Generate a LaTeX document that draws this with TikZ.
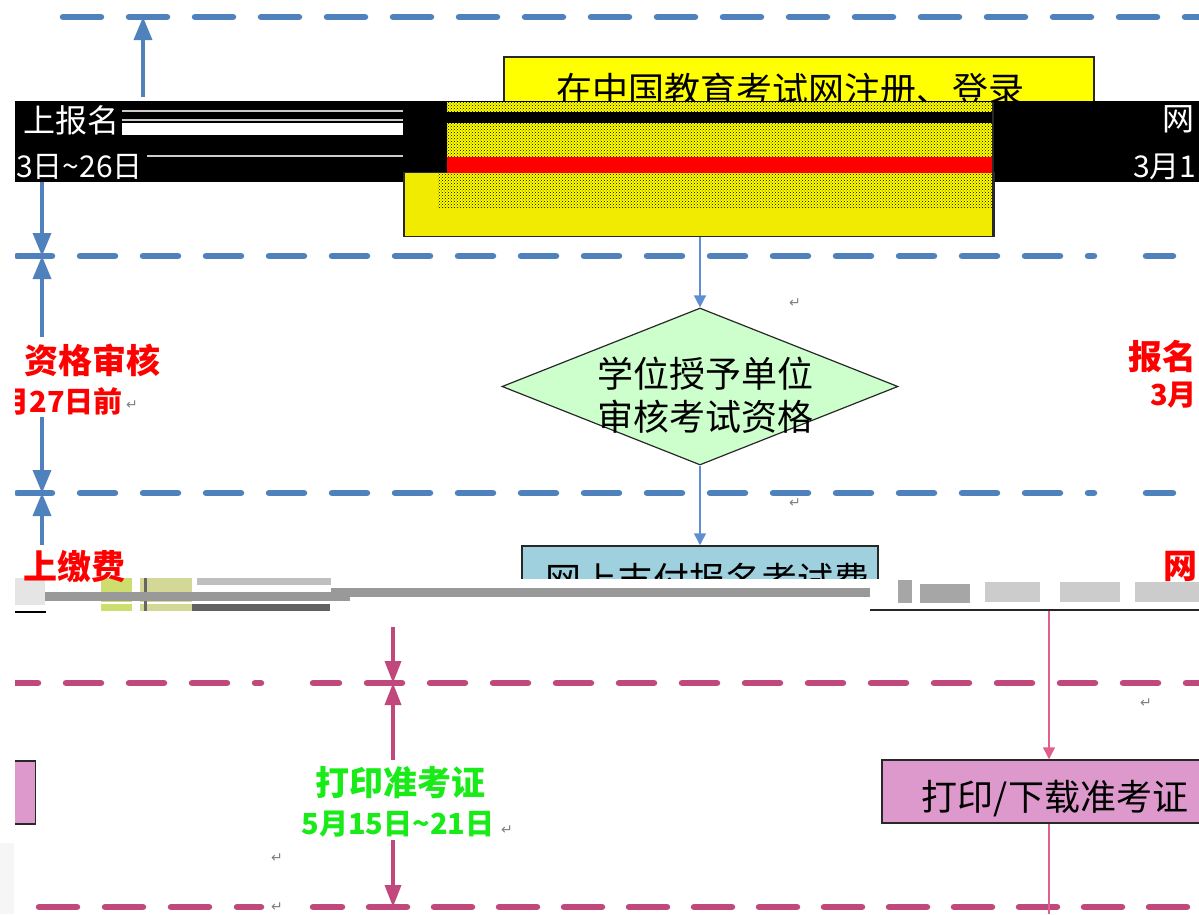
\documentclass[tikz,border=0pt]{standalone}
\usepackage{fontspec}
\newfontfamily\cjk{Noto Sans CJK SC}
\newfontfamily\symf{DejaVu Sans}
\usetikzlibrary{arrows.meta,shapes.geometric,patterns}
\definecolor{bl}{RGB}{79,129,189}
\definecolor{blc}{RGB}{95,143,210}
\definecolor{pk}{RGB}{192,72,122}
\definecolor{pkc}{RGB}{225,95,140}
\definecolor{yl}{RGB}{255,255,0}
\definecolor{ylb}{RGB}{240,235,0}
\definecolor{lgreen}{RGB}{204,255,204}
\definecolor{lblue}{RGB}{158,208,222}
\definecolor{orch}{RGB}{221,152,204}
\definecolor{grn}{RGB}{25,235,25}
\definecolor{rd}{RGB}{255,0,0}
\definecolor{dk}{RGB}{40,40,40}
\definecolor{mk}{RGB}{128,128,128}
\definecolor{gy1}{RGB}{205,222,110}
\definecolor{gy2}{RGB}{212,216,150}
\newcommand{\tld}{\char"007E\relax}
\begin{document}
\begin{tikzpicture}[x=1pt,y=-1pt,
  bdash/.style={draw=bl,line width=6.5pt,line cap=round,dash pattern=on 35pt off 28pt},
  pdash/.style={draw=pk,line width=6.5pt,line cap=round,dash pattern=on 35pt off 28pt},
  pdashb/.style={draw=pk,line width=6.5pt,line cap=round,dash pattern=on 38pt off 27pt},
  barrow/.style={draw=bl,line width=3.5pt,-{Triangle[length=23pt,width=18pt]}},
  parrow/.style={draw=pk,line width=3.5pt,-{Triangle[length=22pt,width=16pt]}},
  bconn/.style={draw=blc,line width=1.5pt,-{Triangle[length=12pt,width=12pt]}},
  pconn/.style={draw=pkc,line width=1.5pt,-{Triangle[length=12pt,width=12pt]}},
  boxline/.style={draw=dk,line width=1.5pt,inner sep=0pt},
  txt/.style={inner sep=0pt,font=\cjk\fontsize{36}{42}\selectfont},
  rtxt/.style={inner sep=0pt,text=rd,font=\cjk\bfseries\fontsize{34}{40}\selectfont},
  rsub/.style={inner sep=0pt,text=rd,font=\cjk\bfseries\fontsize{29}{34}\selectfont},
  gtxt/.style={inner sep=0pt,text=grn,font=\cjk\bfseries\fontsize{34}{40}\selectfont},
  gsub/.style={inner sep=0pt,text=grn,font=\cjk\bfseries\fontsize{29}{34}\selectfont},
  wtxt/.style={inner sep=0pt,text=white,font=\cjk\fontsize{32}{36}\selectfont},
  wsub/.style={inner sep=0pt,text=white,font=\cjk\fontsize{30}{34}\selectfont},
  retmark/.style={inner sep=0pt,text=mk,font=\symf\fontsize{14}{14}\selectfont},
  glitch/.style={pattern=crosshatch dots,pattern color=black}
]
\useasboundingbox (0,0) rectangle (1199,914);
\fill[gray!7] (0,843) rectangle (14,914);
\begin{scope}
\clip (15,0) rectangle (1199,914);

% dashed separators
\draw[bdash,dash pattern=on 38pt off 28pt] (63,17) -- (1199,17);
\draw[bdash] (17,256) -- (1094,256);
\draw[bdash,dash phase=8pt] (1146,256) -- (1199,256);
\draw[bdash] (17,493) -- (1094,493);
\draw[bdash,dash phase=8pt] (1146,493) -- (1199,493);
\draw[pdash] (3,683) -- (261,683);
\draw[pdash,dash phase=9pt] (313,683) -- (1199,683);
\draw[pdashb,dash pattern=on 38pt off 28pt,dash phase=-39pt] (0,907) -- (261,907);
\draw[pdashb,dash phase=9pt] (313,907) -- (1199,907);

% yellow registration box (top part)
\begin{scope}
\clip (0,0) rectangle (1199,101);
\node[boxline,fill=yl,minimum width=590pt,minimum height=181pt,anchor=north west] (reg) at (503,56) {};
\node[txt] (regt) at (790,90) {在中国教育考试网注册、登录};
\end{scope}

% black band
\fill[black] (15,101) rectangle (1199,182);
\fill[white!80!black] (122,110) rectangle (403,111.5);
\fill[white!80!black] (122,119) rectangle (403,120.5);
\fill[white] (122,123) rectangle (403,135);
\fill[white!80!black] (147,155) rectangle (403,156.5);
\node[wtxt,anchor=east] (w1) at (120,120) {上报名};
\node[wsub,anchor=west] (w2) at (16,167) {3日\tld 26日};
\node[wtxt] (w3) at (1178,119) {网};
\node[wsub,anchor=west] (w4) at (1133,167) {3月1};

% yellow box lower part
\node[boxline,fill=ylb,minimum width=590pt,minimum height=64pt,anchor=south west] (reglow) at (403,237) {};
\fill[yl] (447,102) rectangle (993,112);
\fill[glitch] (447,102) rectangle (993,112);
\fill[yl] (447,123) rectangle (993,157);
\fill[glitch] (447,123) rectangle (993,157);
\fill[rd] (447,157) rectangle (993,173);
\fill[yl] (437,173) rectangle (993,207);
\fill[glitch] (437,173) rectangle (993,207);
\draw[dk,line width=1.5pt] (993,102) -- (993,237);

% diamond
\node[diamond,draw=dk,line width=1.2pt,fill=lgreen,minimum width=396pt,minimum height=157pt,inner sep=0pt] (dia) at (700,386.5) {};
\node[txt] (dia1) at (705,374) {学位授予单位};
\node[txt] (dia2) at (705,417) {审核考试资格};

% payment box (top part)
\begin{scope}
\clip (0,0) rectangle (1199,578);
\node[boxline,fill=lblue,minimum width=356pt,minimum height=70pt] (pay) at (700,581) {};
\node[txt] (payt) at (707,580) {网上支付报名考试费};
\end{scope}

% glitch band
\fill[black!10] (15,578) rectangle (45,605);
\fill[gy1] (101,578) rectangle (132,602);
\fill[gy1] (101,604) rectangle (132,611);
\fill[gy2] (140,578) rectangle (192,602);
\fill[gy2] (140,604) rectangle (192,611);
\fill[black!60] (144,578) rectangle (147,611);
\fill[black!25] (197,578) rectangle (331,585);
\fill[black!40] (45,592) rectangle (350,601);
\fill[black!40] (331,588) rectangle (870,597);
\fill[black!62] (192,604) rectangle (330,611);
\fill[black] (15,611) rectangle (46,613);
\fill[black!85] (870,609) rectangle (1199,611);
\fill[black!35] (898,580) rectangle (912,603);
\fill[black!35] (920,584) rectangle (970,603);
\fill[black!20] (985,582) rectangle (1040,602);
\fill[black!20] (1060,582) rectangle (1120,602);
\fill[black!20] (1135,582) rectangle (1199,602);

% print boxes
\node[boxline,fill=orch,minimum width=334pt,minimum height=63pt] (print) at (1049,791.5) {};
\node[txt] (printt) at (1055,799) {打印/下载准考证};
\node[boxline,fill=orch,minimum width=140pt,minimum height=63pt,anchor=east] (lbox) at (36,792.5) {};

% side labels
\node[rtxt] (r1) at (92,360) {资格审核};
\node[rsub,anchor=east] (r2) at (123,401) {月27日前};
\node[rtxt,anchor=east] (r3) at (126,567) {上缴费};
\node[rtxt,anchor=east] (r4) at (1197,357) {报名};
\node[rsub,anchor=east] (r5) at (1197,395) {3月};
\node[rtxt,anchor=west] (r6) at (1163,566) {网};
\node[gtxt] (g1) at (400,783) {打印准考证};
\node[gsub] (g2) at (398,824) {5月15日\tld 21日};

% paragraph marks
\node[retmark] (m1) at (795,303) {↵};
\node[retmark] (m2) at (795,503) {↵};
\node[retmark] (m3) at (1146,703) {↵};
\node[retmark] (m4) at (277,858) {↵};
\node[retmark] (m5) at (277,907) {↵};
\node[retmark] (m6) at (132,405) {↵};
\node[retmark] (m7) at (507,830) {↵};

% blue timeline arrows
\coordinate (a0) at (143,17);
\coordinate (a1) at (143,97);
\coordinate (b0) at (42,182);
\coordinate (b1) at (42,256);
\coordinate (b2) at (42,337);
\coordinate (b3) at (42,417);
\coordinate (b4) at (42,493);
\coordinate (b5) at (42,545);
\draw[barrow] (a1) -- (a0);
\draw[barrow] (b0) -- (b1);
\draw[barrow] (b2) -- (b1);
\draw[barrow] (b3) -- (b4);
\draw[barrow] (b5) -- (b4);

% pink timeline arrows
\coordinate (q0) at (393,627);
\coordinate (q1) at (393,683);
\coordinate (q2) at (393,760);
\coordinate (q3) at (393,840);
\coordinate (q4) at (393,907);
\draw[parrow] (q0) -- (q1);
\draw[parrow] (q2) -- (q1);
\draw[parrow] (q3) -- (q4);

% flow connectors
\draw[bconn] (dia.north |- reglow.south) -- (dia.north);
\draw[bconn] (dia.south) -- (pay.north);
\coordinate (k0) at (1049,611);
\coordinate (k1) at (1049,914);
\draw[pconn] (k0) -- (print.north);
\draw[draw=pkc,line width=1.5pt] (print.south) -- (k1);
\end{scope}
\end{tikzpicture}
\end{document}
